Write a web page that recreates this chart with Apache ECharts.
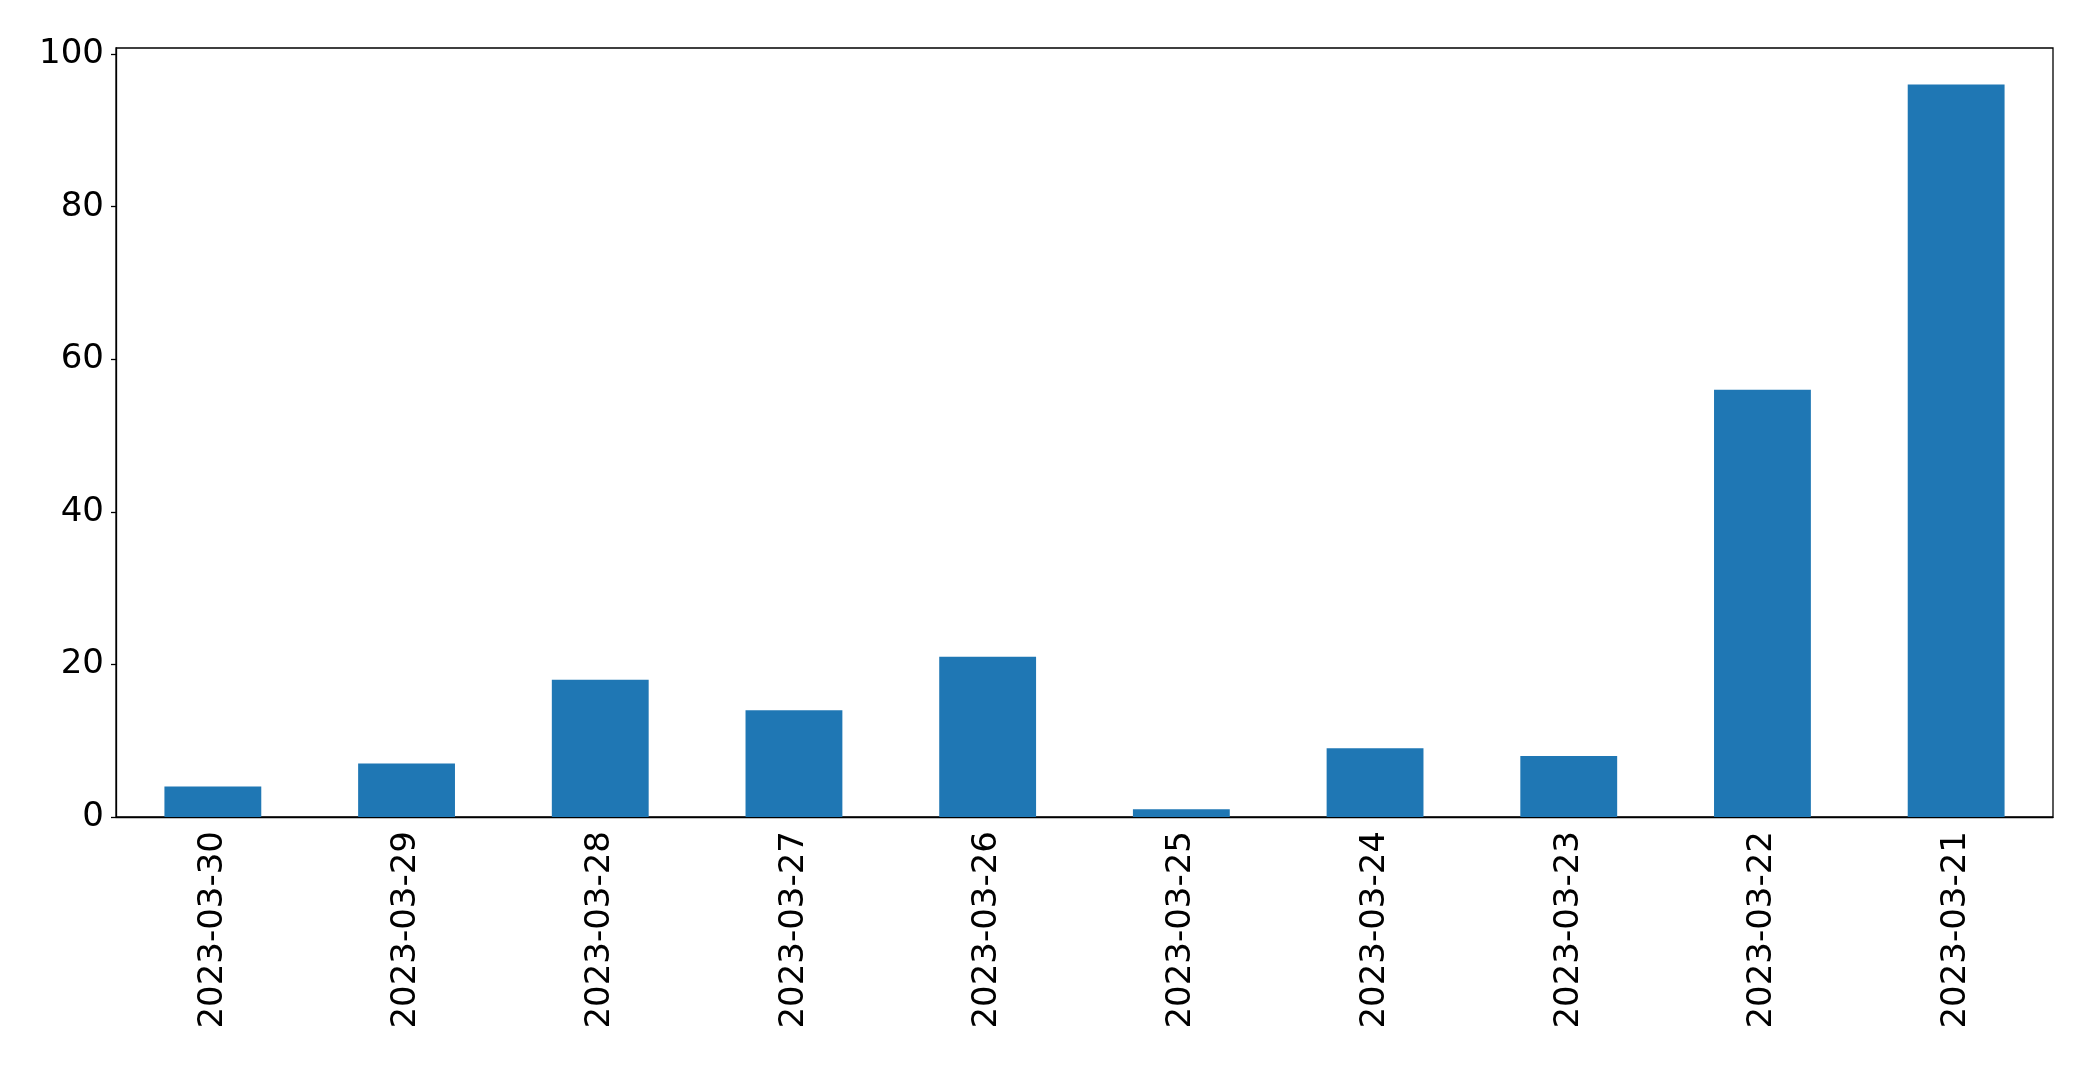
<!DOCTYPE html>
<html>
<head>
<meta charset="utf-8">
<script src="https://cdn.jsdelivr.net/npm/echarts@6/dist/echarts.min.js"></script>
<style>
html,body{margin:0;padding:0;background:#fff;}
#chart{width:2093px;height:1069px;}
</style>
</head>
<body>
<div id="chart"></div>
<script>
const categories = ['2023-03-30','2023-03-29','2023-03-28','2023-03-27','2023-03-26','2023-03-25','2023-03-24','2023-03-23','2023-03-22','2023-03-21'];
const values = [4, 7, 18, 14, 21, 1, 9, 8, 56, 96];
const yTicks = [0, 20, 40, 60, 80, 100];

const chart = echarts.init(document.getElementById('chart'), null, {renderer: 'canvas'});
const font = 'DejaVu Sans';
chart.setOption({
  animation: false,
  backgroundColor: '#ffffff',
  grid: {
    left: 116, right: 40, top: 48, bottom: 252,
    show: true, borderColor: '#000', borderWidth: 1.3, backgroundColor: 'transparent'
  },
  xAxis: {
    type: 'category',
    data: categories,
    boundaryGap: true,
    axisLine: {lineStyle: {color: '#000', width: 1.3}},
    axisTick: {alignWithLabel: true, length: 5, lineStyle: {color: '#000', width: 1.3}},
    axisLabel: {rotate: 90, margin: 14, color: '#000', fontFamily: font, fontSize: 34, interval: 0},
    splitLine: {show: false}
  },
  yAxis: {
    type: 'value',
    min: 0,
    max: 100.8,
    axisLine: {show: true, lineStyle: {color: '#000', width: 1.3}},
    axisTick: {show: true, length: 5, customValues: yTicks, lineStyle: {color: '#000', width: 1.3}},
    axisLabel: {margin: 12, color: '#000', fontFamily: font, fontSize: 34, customValues: yTicks},
    splitLine: {show: false}
  },
  series: [{
    type: 'bar',
    data: values,
    barWidth: '50%',
    itemStyle: {color: '#1f77b4'}
  }]
});
</script>
</body>
</html>
